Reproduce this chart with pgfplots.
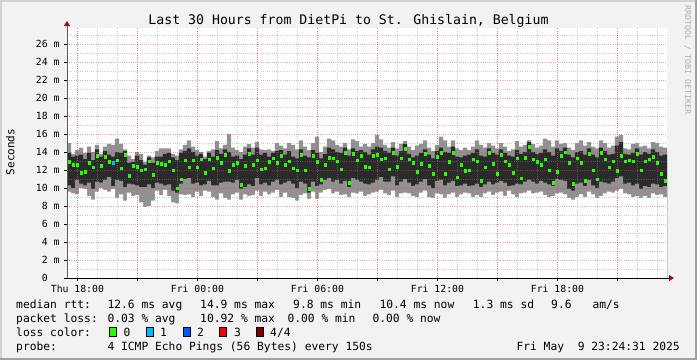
\documentclass[border=0pt]{standalone}
\usepackage{fontspec}
\setmainfont{DejaVu Sans Mono}
\usepackage{pgfplots}
\pgfplotsset{compat=1.18}
\usepackage{pgfplotstable}
\usetikzlibrary{arrows.meta}

\definecolor{bgc}{RGB}{242,242,242}
\definecolor{frameL}{RGB}{210,210,210}
\definecolor{frameD}{RGB}{160,160,160}
\definecolor{smokeA}{RGB}{145,145,145}
\definecolor{smokeB}{RGB}{42,42,42}
\definecolor{lossgreen}{RGB}{38,255,0}
\definecolor{losscyan}{RGB}{0,184,255}
\definecolor{lossblue}{RGB}{0,89,255}
\definecolor{lossred}{RGB}{255,0,0}
\definecolor{lossdark}{RGB}{128,0,0}
\definecolor{mgrid}{RGB}{225,70,70}
\definecolor{ngrid}{RGB}{140,140,140}
\definecolor{arrowred}{RGB}{140,20,20}
\definecolor{wmark}{RGB}{175,175,175}

\pgfplotstableread{
x min q1 q3 max med
17.58 9.6 10.3 13.9 15.0 12.9
17.78 9.4 10.0 13.5 13.8 12.6
17.98 9.3 10.9 13.6 14.2 12.6
18.18 10.0 10.5 13.7 14.5 11.7
18.38 9.9 10.3 13.2 13.9 11.8
18.58 9.1 10.6 13.9 14.6 12.8
18.78 8.7 9.9 13.1 14.0 12.3
18.98 9.6 10.7 14.3 14.8 13.6
19.18 10.0 10.6 13.5 13.8 12.5
19.38 9.8 10.9 14.1 14.6 13.5
19.58 9.6 11.2 13.7 14.9 12.9
19.78 9.9 10.2 13.5 14.8 12.8
19.98 8.9 10.9 14.0 15.5 13.1
20.18 9.3 10.8 13.9 14.9 12.2
20.38 8.6 10.1 14.1 14.3 13.7
20.58 9.5 10.5 12.8 13.6 11.4
20.78 9.1 10.4 12.9 13.2 12.5
20.98 9.2 10.3 13.6 14.0 12.4
21.18 8.4 10.1 13.1 13.8 12.0
21.38 7.9 10.1 12.6 12.9 12.1
21.58 8.0 10.4 13.4 13.6 13.0
21.78 8.6 10.0 12.8 13.4 11.5
21.98 9.7 10.6 13.5 14.1 12.8
22.18 9.2 10.5 13.5 14.4 12.7
22.38 9.8 10.3 13.8 14.4 12.6
22.58 9.1 10.4 13.9 14.4 13.0
22.78 8.4 9.7 13.4 13.8 12.0
22.98 8.3 9.5 13.1 13.6 10.0
23.18 9.3 10.5 13.9 14.3 11.0
23.38 9.2 11.0 14.1 14.8 13.1
23.58 9.3 11.1 14.4 15.3 12.3
23.78 9.0 10.5 14.0 14.6 13.1
23.98 9.6 10.6 13.6 14.2 12.3
24.18 9.1 10.3 13.8 14.0 13.2
24.38 9.7 10.4 13.2 13.5 11.7
24.58 9.6 10.8 13.9 14.1 13.2
24.78 9.0 10.3 13.5 14.3 12.2
24.98 8.7 10.3 14.2 15.2 13.4
25.18 9.4 10.6 13.8 14.4 12.8
25.38 8.9 10.7 14.3 14.8 13.7
25.58 8.7 10.7 14.0 16.0 11.9
25.78 9.3 10.6 13.5 14.5 12.6
25.98 9.5 10.9 13.6 14.2 12.8
26.18 8.7 9.9 13.2 14.0 10.4
26.38 9.3 10.1 13.7 14.6 12.5
26.58 9.1 10.4 14.4 14.9 13.8
26.78 9.2 10.2 13.7 14.5 12.6
26.98 9.7 11.1 14.5 15.1 13.1
27.18 9.1 10.4 13.7 14.3 12.1
27.38 9.6 10.6 13.9 14.2 12.2
27.58 9.3 10.3 13.5 14.3 12.9
27.78 9.5 10.7 13.9 14.1 13.3
27.98 9.8 10.9 14.1 15.0 12.8
28.18 9.0 10.4 14.2 14.7 13.6
28.38 9.5 10.6 13.7 14.4 12.6
28.58 9.0 10.8 14.1 15.0 13.0
28.78 8.9 10.5 13.5 14.8 12.2
28.98 8.6 10.0 13.3 14.3 12.0
29.18 9.2 10.7 14.3 15.3 13.7
29.38 9.4 10.5 13.6 14.6 12.0
29.58 8.8 9.5 13.4 14.2 9.9
29.78 9.6 10.7 14.2 15.0 13.6
29.98 8.8 10.2 13.9 15.7 12.9
30.18 9.5 10.4 13.3 14.0 10.9
30.38 9.8 10.9 13.8 14.6 12.6
30.58 9.9 11.1 14.5 15.5 13.4
30.78 9.4 10.7 14.3 15.3 13.3
30.98 9.6 10.9 14.0 14.8 13.0
31.18 9.2 10.5 13.9 14.6 12.1
31.38 9.3 10.8 14.5 15.0 13.9
31.58 9.0 10.1 13.6 14.3 10.6
31.78 9.5 11.1 14.4 15.4 13.8
31.98 9.4 10.9 14.1 15.2 13.1
32.18 9.6 10.7 14.2 14.6 13.6
32.38 9.1 10.5 14.0 14.9 12.4
32.58 9.3 10.4 13.7 14.6 12.3
32.78 9.5 10.6 14.3 15.0 13.6
32.98 9.6 10.9 14.6 15.9 13.7
33.18 9.8 11.2 14.5 15.4 13.2
33.38 9.4 10.7 14.1 14.8 13.3
33.58 9.2 10.7 13.9 14.5 12.1
33.78 9.7 11.3 14.5 15.1 13.9
33.98 9.0 10.3 13.6 14.4 12.4
34.18 9.4 10.7 14.1 14.9 13.3
34.38 9.5 11.0 14.9 15.2 14.4
34.58 9.4 10.6 13.8 14.6 13.2
34.78 9.1 10.2 13.4 14.2 12.8
34.98 9.0 10.4 13.6 14.7 11.8
35.18 9.5 10.7 13.9 14.9 12.7
35.38 9.7 11.0 14.3 15.3 13.8
35.58 9.0 10.3 13.7 14.5 12.5
35.78 8.9 10.0 13.3 14.1 11.6
35.98 9.4 10.8 14.1 14.8 13.5
36.18 9.3 10.9 14.5 15.7 13.9
36.38 8.9 10.3 14.0 15.3 11.6
36.58 9.3 10.6 13.9 14.6 12.9
36.78 9.5 10.8 14.6 15.3 13.9
36.98 9.0 10.2 13.5 14.4 11.2
37.18 9.3 10.3 13.4 14.2 12.6
37.38 9.5 10.5 13.6 14.5 11.9
37.58 9.4 10.2 13.7 14.2 12.0
37.78 9.0 10.3 13.9 14.6 13.2
37.98 9.2 10.5 14.3 15.3 13.0
38.18 9.0 10.1 13.6 14.8 10.8
38.38 9.4 10.4 13.5 14.5 12.3
38.58 9.6 10.7 14.4 15.0 13.9
38.78 9.2 10.4 13.9 14.7 12.7
38.98 9.5 10.6 13.7 14.4 11.6
39.18 9.6 10.8 14.3 15.0 13.7
39.38 9.1 10.6 13.9 14.6 13.0
39.58 9.7 10.2 13.6 14.1 12.6
39.78 9.3 10.3 13.5 14.3 11.7
39.98 9.0 10.5 14.2 15.2 13.3
40.18 9.4 10.4 13.8 14.6 11.1
40.38 9.5 10.7 14.0 14.8 13.4
40.58 9.7 10.9 15.1 15.3 14.6
40.78 9.4 10.7 14.0 14.9 13.2
40.98 9.5 10.5 13.8 14.5 12.9
41.18 9.6 10.8 13.9 14.7 12.6
41.38 9.2 10.6 14.3 15.5 13.2
41.58 9.0 10.4 14.0 15.3 12.0
41.78 9.1 10.2 13.6 14.6 10.6
41.98 9.4 11.0 14.4 15.3 11.8
42.18 9.5 10.9 14.1 14.9 13.6
42.38 9.3 10.8 14.5 15.0 14.0
42.58 8.9 9.9 13.7 14.5 12.8
42.78 8.7 9.7 13.4 14.2 10.5
42.98 9.0 10.5 14.0 15.0 13.3
43.18 9.3 10.6 14.1 15.3 12.8
43.38 9.0 10.2 13.7 14.7 10.8
43.58 9.6 10.9 14.4 15.1 13.8
43.78 9.3 10.3 13.7 14.6 12.0
43.98 8.9 10.0 13.4 14.4 11.0
44.18 9.1 10.7 14.5 15.3 13.9
44.38 9.4 10.6 14.1 15.0 13.2
44.58 9.6 10.5 13.7 14.5 12.3
44.78 9.5 10.7 13.8 14.7 13.0
44.98 9.7 11.1 14.7 15.7 11.9
45.18 9.9 11.3 15.1 15.9 13.6
45.38 9.4 10.5 13.8 14.4 13.0
45.58 9.3 10.6 13.7 14.3 13.1
45.78 9.0 10.3 13.9 14.9 13.0
45.98 9.1 10.5 14.4 15.0 13.8
46.18 8.9 9.9 13.7 14.6 12.0
46.38 9.1 10.2 14.0 14.7 13.0
46.58 8.9 10.1 13.8 14.4 13.2
46.78 9.4 10.5 14.3 15.1 13.5
46.98 9.2 10.4 14.0 15.0 12.8
47.18 9.3 10.1 13.6 14.6 11.6
47.38 9.0 10.2 13.7 14.5 10.8
}\pingdata

\newcommand\tickfont{\fontsize{9.8}{11}\selectfont}
\newcommand\legfont{\fontsize{11.3}{13}\selectfont}

\begin{document}
\begin{tikzpicture}[x=1pt,y=1pt]
\fill[bgc] (0,0) rectangle (697,360);
\path[use as bounding box] (0,0) rectangle (697,360);
\draw[frameL,line width=2pt] (1,0) -- (1,359) -- (697,359);
\draw[frameD,line width=2pt] (0,1) -- (696,1) -- (696,360);

\begin{axis}[
  at={(67pt,82pt)}, anchor=south west,
  scale only axis, width=600pt, height=250pt,
  xmin=17.48, xmax=47.48, ymin=0, ymax=27.78,
  axis background/.style={fill=white},
  axis on top,
  axis x line*=bottom, axis y line*=left,
  x axis line style={draw=black, line width=0.9pt, shorten >=-7pt, -{Triangle[length=5pt,width=6pt,color=arrowred]}},
  y axis line style={draw={rgb,255:red,90;green,90;blue,90}, line width=0.9pt, shorten >=-7pt, -{Triangle[length=5pt,width=6pt,color=arrowred]}},
  xtick={18,21,24,27,30,33,36,39,42,45},
  xticklabels={Thu 18:00,,Fri 00:00,,Fri 06:00,,Fri 12:00,,Fri 18:00,},
  minor xtick={18,19,...,47},
  ytick={0,2,...,26},
  yticklabels={0\phantom{~m},2 m,4 m,6 m,8 m,10 m,12 m,14 m,16 m,18 m,20 m,22 m,24 m,26 m},
  minor ytick={1,3,...,27},
  grid=both,
  major grid style={draw=mgrid, draw opacity=0.5, line width=0.8pt, dash pattern=on 1pt off 1.2pt},
  minor grid style={draw=ngrid, draw opacity=0.45, line width=0.8pt, dash pattern=on 1pt off 1.2pt},
  tick align=outside, major tick length=3pt, minor tick length=0pt,
  tick style={draw=black, draw opacity=1, line width=0.8pt},
  xticklabel style={font=\tickfont, anchor=north, yshift=-1pt},
  yticklabel style={font=\tickfont, anchor=east, xshift=-1pt},
  clip=true,
]
\addplot[ybar, bar width=4.05pt, bar shift=0pt, fill=smokeA, draw=none, forget plot]
  table[x=x, y=max] {\pingdata};
\addplot[ybar, bar width=4.05pt, bar shift=0pt, fill=smokeB, draw=none, forget plot]
  table[x=x, y=q3] {\pingdata};
\addplot[ybar, bar width=4.05pt, bar shift=0pt, fill=smokeA, draw=none, forget plot]
  table[x=x, y=q1] {\pingdata};
\addplot[ybar, bar width=4.05pt, bar shift=0pt, fill=white, draw=none, forget plot]
  table[x=x, y=min] {\pingdata};
\addplot[color=lossgreen, fill=lossgreen, only marks, mark=square*, mark size=1.3pt, forget plot]
  table[x=x, y=med] {\pingdata};
\addplot[color=losscyan, fill=losscyan, only marks, mark=square*, mark size=1.3pt, forget plot]
  coordinates {(19.78,12.8)};
\end{axis}

\node[anchor=base, inner sep=0pt, font=\fontsize{13.2}{15}\selectfont] at (348.5,336) {Last 30 Hours from DietPi to St. Ghislain, Belgium};
\node[rotate=90, inner sep=0pt, font=\fontsize{11}{13}\selectfont] at (10.3,208) {Seconds};
\node[rotate=-90, inner sep=0pt, text=wmark, font=\fontsize{8.3}{10}\selectfont] at (687.7,300) {RRDTOOL / TOBI OETIKER};

\begin{scope}[every node/.style={inner sep=0pt, anchor=base west, font=\legfont}]
\node at (16,51.7) {median rtt:};
\node at (107.3,51.7) {12.6 ms avg};
\node at (200,51.7) {14.9 ms max};
\node at (293,51.7) {9.8 ms min};
\node at (379.3,51.7) {10.4 ms now};
\node at (472.7,51.7) {1.3 ms sd};
\node at (551,51.7) {9.6};
\node at (592.3,51.7) {am/s};
\node at (16,37.8) {packet loss:};
\node at (107.3,37.8) {0.03 \% avg};
\node at (200,37.8) {10.92 \% max};
\node at (287.3,37.8) {0.00 \% min};
\node at (372.3,37.8) {0.00 \% now};
\node at (16,23.9) {loss color:};
\node at (123.3,23.9) {0};
\node at (160,23.9) {1};
\node at (197,23.9) {2};
\node at (234,23.9) {3};
\node at (270,23.9) {4/4};
\node at (16,10) {probe:};
\node at (107.3,10) {4 ICMP Echo Pings (56 Bytes) every 150s};
\node[anchor=base east] at (680,10) {Fri May~ 9 23:24:31 2025};
\end{scope}
\draw[fill=lossgreen, draw=black, line width=0.6pt] (109.5,23.5) rectangle (116.5,32.5);
\draw[fill=losscyan, draw=black, line width=0.6pt] (146.5,23.5) rectangle (153.5,32.5);
\draw[fill=lossblue, draw=black, line width=0.6pt] (183,23.5) rectangle (190,32.5);
\draw[fill=lossred, draw=black, line width=0.6pt] (219.5,23.5) rectangle (226.5,32.5);
\draw[fill=lossdark, draw=black, line width=0.6pt] (256.5,23.5) rectangle (263.5,32.5);
\end{tikzpicture}
\end{document}
